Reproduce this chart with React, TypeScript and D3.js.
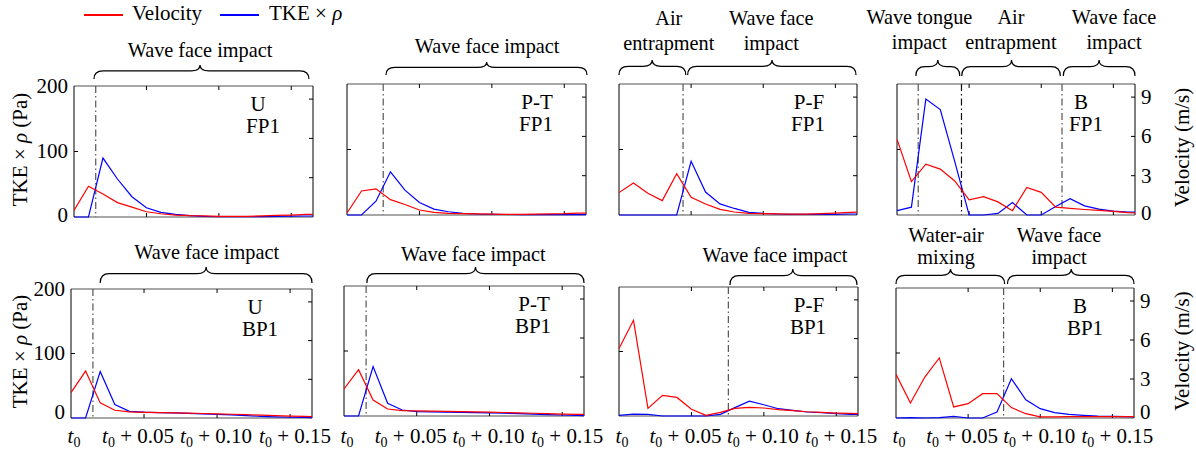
import React from 'react';
import * as d3 from 'd3';

// time axis (s after t0)
const times = [0, 0.01, 0.02, 0.03, 0.04, 0.05, 0.06, 0.07, 0.08, 0.09, 0.1, 0.11, 0.12, 0.13, 0.14, 0.15, 0.16, 0.17];
const timeTicks = [0, 0.05, 0.1, 0.15];
const timeTickLabels = ['', ' + 0.05', ' + 0.10', ' + 0.15'];
const tkeTicks = [0, 100, 200];
const velTicks = [0, 3, 6, 9];

const panelTypes = ['U', 'P-T', 'P-F', 'B'];
const positions = ['FP1', 'BP1'];

// Velocity (m/s)
const velU_FP1 = [0.5, 2.35, 1.75, 1.1, 0.75, 0.4, 0.25, 0.15, 0.1, 0.08, 0.05, 0.05, 0.05, 0.08, 0.12, 0.15, 0.2, 0.2];
const velPT_FP1 = [0.15, 1.83, 2.0, 1.17, 0.8, 0.38, 0.2, 0.12, 0.1, 0.08, 0.06, 0.05, 0.05, 0.06, 0.08, 0.1, 0.15, 0.15];
const velPF_FP1 = [1.71, 2.45, 1.66, 1.1, 3.16, 1.35, 0.84, 0.43, 0.23, 0.13, 0.1, 0.08, 0.06, 0.06, 0.1, 0.15, 0.2, 0.25];
const velB_FP1 = [5.79, 2.55, 3.88, 3.5, 2.6, 1.15, 1.4, 1.0, 0.33, 2.1, 1.73, 0.6, 0.5, 0.42, 0.35, 0.28, 0.18, 0.15];
const velU_BP1 = [1.97, 3.64, 1.17, 0.6, 0.47, 0.44, 0.42, 0.4, 0.38, 0.35, 0.32, 0.29, 0.26, 0.22, 0.18, 0.15, 0.12, 0.1];
const velPT_BP1 = [2.08, 3.56, 1.23, 0.54, 0.41, 0.4, 0.38, 0.36, 0.34, 0.32, 0.3, 0.27, 0.24, 0.21, 0.18, 0.15, 0.13, 0.12];
const velPF_BP1 = [5.23, 7.42, 0.59, 1.6, 1.44, 0.52, 0.05, 0.28, 0.59, 0.67, 0.62, 0.49, 0.41, 0.33, 0.28, 0.23, 0.2, 0.18];
const velB_BP1 = [3.36, 1.15, 3.15, 4.62, 0.85, 1.1, 1.87, 1.87, 0.8, 0.33, 0.08, 0.08, 0.1, 0.1, 0.1, 0.1, 0.1, 0.1];

// TKE x rho (Pa)
const tkeU_FP1 = [0, 0, 90, 58, 31, 14, 7, 4, 2, 1, 0.5, 0.5, 0.5, 0.5, 0.8, 1.2, 1.5, 1.5];
const tkePT_FP1 = [0, 0, 21, 66, 38, 19, 9, 5, 2.5, 1.5, 1, 0.8, 0.5, 0.5, 0.5, 0.5, 0.5, 0.5];
const tkePF_FP1 = [0, 0, 0, 0, 0, 82, 35, 17, 10, 4, 2.5, 1.5, 1, 1, 1, 1, 1.5, 1.5];
const tkeB_FP1 = [6.6, 12, 177, 161, 82, 0, 0, 2.5, 19, 0, 0, 13, 25, 14, 9, 6, 4.5, 4];
const tkeU_BP1 = [0, 0, 72, 21, 10.4, 9, 8.3, 7.8, 7.3, 6.5, 5.7, 4.7, 3.6, 2.6, 1.8, 1.2, 0.8, 0.5];
const tkePT_BP1 = [0, 0, 76, 19.5, 9.2, 6.7, 6.3, 6, 5.6, 5.2, 4.7, 4.2, 3.6, 3, 2.2, 1.5, 0.8, 0.5];
const tkePF_BP1 = [1, 3, 2.6, 0, 0, 0, 0, 2.6, 13, 23, 17.5, 11.3, 8.8, 6.2, 5.2, 3.6, 2.6, 2];
const tkeB_BP1 = [0, 0.5, 0, 0.5, 2.6, 0, 0, 9.2, 60.5, 28, 14.4, 8.2, 5.6, 4.1, 3, 2.6, 2, 1.5];

const velSeries = [velU_FP1, velPT_FP1, velPF_FP1, velB_FP1, velU_BP1, velPT_BP1, velPF_BP1, velB_BP1];
const tkeSeries = [tkeU_FP1, tkePT_FP1, tkePF_FP1, tkeB_FP1, tkeU_BP1, tkePT_BP1, tkePF_BP1, tkeB_BP1];

// phase separators (time, s)
const separators = [[0.015], [0.025], [0.0444], [0.0147, 0.0447, 0.1144], [0.015], [0.0152], [0.0755], [0.0746]];

// phase braces: [start, end, tip] in time units
const braces = [
  [[0.0138, 0.1622, 0.087]],
  [[0.0269, 0.1657, 0.0964]],
  [[0.0, 0.0463, 0.023], [0.0476, 0.1643, 0.1061]],
  [[0.0131, 0.0435, 0.0283], [0.0449, 0.1132, 0.0794], [0.1153, 0.165, 0.1401]],
  [[0.02, 0.165, 0.0925]],
  [[0.0157, 0.165, 0.0904]],
  [[0.0766, 0.1643, 0.12]],
  [[0.0, 0.0753, 0.0378], [0.0773, 0.165, 0.1215]],
];

// phase labels: [center time, lines]
const phaseLabels: [number, string[]][][] = [
  [[0.087, ['Wave face impact']]],
  [[0.0967, ['Wave face impact']]],
  [[0.0345, ['Air', 'entrapment']], [0.1056, ['Wave face', 'impact']]],
  [[0.0155, ['Wave tongue', 'impact']], [0.079, ['Air', 'entrapment']], [0.1505, ['Wave face', 'impact']]],
  [[0.0929, ['Wave face impact']]],
  [[0.0889, ['Wave face impact']]],
  [[0.1077, ['Wave face impact']]],
  [[0.0347, ['Water-air', 'mixing']], [0.113, ['Wave face', 'impact']]],
];

const layout = [
  { x: 74, y: 86, w: 239, h: 131, tip: 65, end: 79, base: [57] },
  { x: 347, y: 84, w: 239, h: 131, tip: 62, end: 75, base: [53] },
  { x: 619, y: 84, w: 238, h: 131, tip: 60, end: 75, base: [25, 50] },
  { x: 897, y: 84, w: 238, h: 131, tip: 60, end: 76, base: [24, 49] },
  { x: 71, y: 289, w: 241, h: 129, tip: 267, end: 283, base: [259] },
  { x: 344, y: 286, w: 240, h: 130, tip: 267, end: 283, base: [261] },
  { x: 619, y: 287, w: 239, h: 129, tip: 269, end: 285, base: [262] },
  { x: 896, y: 288, w: 238, h: 130, tip: 269, end: 284, base: [241.5, 264] },
];

const FONT = '"Liberation Serif", "Times New Roman", serif';
const FS = 21;
const FS_PHASE = 20.3;
const labelDx = [3, -6, -1, 5];
const typeDx: Record<string, number> = { U: 184, 'P-T': 190, 'P-F': 190, B: 184 };

function bracePath(x1: number, x2: number, xm: number, yTip: number, yEnd: number) {
  const yFlat = yTip + (yEnd - yTip) * 0.42;
  const r = Math.min(9, (xm - x1) / 2, (x2 - xm) / 2);
  return `M${x1},${yEnd} Q${x1},${yFlat} ${x1 + r},${yFlat} L${xm - r},${yFlat} Q${xm},${yFlat} ${xm},${yTip} Q${xm},${yFlat} ${xm + r},${yFlat} L${x2 - r},${yFlat} Q${x2},${yFlat} ${x2},${yEnd}`;
}

function Panel({ i }: { i: number }) {
  const L = layout[i];
  const col = i % 4;
  const row = Math.floor(i / 4);
  const x = d3.scaleLinear().domain([0, 0.165]).range([L.x, L.x + L.w]);
  const yT = d3.scaleLinear().domain([0, 200]).range([L.y + L.h, L.y]);
  const yV = d3.scaleLinear().domain([0, 10]).range([L.y + L.h, L.y]);
  const tkeLine = d3.line<number>().x((_, k) => x(times[k])).y((d) => yT(d));
  const velLine = d3.line<number>().x((_, k) => x(times[k])).y((d) => yV(d));
  const clipId = `clip${i}`;
  const bottom = L.y + L.h;
  const right = L.x + L.w;
  const zeroShift = row === 1 ? -6 : -2;
  return (
    <g>
      <defs>
        <clipPath id={clipId}>
          <rect x={L.x} y={L.y - 1} width={L.w} height={L.h + 2} />
        </clipPath>
      </defs>
      {/* frame */}
      <line x1={L.x} x2={right} y1={L.y} y2={L.y} stroke="#8a8a8a" strokeWidth={1.5} />
      <line x1={L.x} x2={right} y1={bottom} y2={bottom} stroke="#8a8a8a" strokeWidth={1.5} />
      <line x1={L.x} x2={L.x} y1={L.y} y2={bottom} stroke="#000" strokeWidth={1} />
      <line x1={right} x2={right} y1={L.y} y2={bottom} stroke="#000" strokeWidth={1} />
      {/* ticks */}
      {timeTicks.slice(1).map((t) => (
        <g key={t}>
          <line x1={x(t)} x2={x(t)} y1={bottom} y2={bottom - 4} stroke="#000" strokeWidth={1} />
          <line x1={x(t)} x2={x(t)} y1={L.y} y2={L.y + 4} stroke="#000" strokeWidth={1} />
        </g>
      ))}
      {tkeTicks.slice(1, -1).map((v) => (
        <line key={v} x1={L.x} x2={L.x + 4} y1={yT(v)} y2={yT(v)} stroke="#000" strokeWidth={1} />
      ))}
      {velTicks.slice(1).map((v) => (
        <line key={v} x1={right} x2={right - 4} y1={yV(v)} y2={yV(v)} stroke="#000" strokeWidth={1} />
      ))}
      {/* separators */}
      {separators[i].map((t, k) => (
        <line
          key={k}
          x1={x(t)}
          x2={x(t)}
          y1={L.y}
          y2={bottom}
          stroke={i === 3 && k === 1 ? '#111' : '#555'}
          strokeWidth={1.2}
          strokeDasharray="7 3 1.5 3"
        />
      ))}
      {/* series */}
      <g clipPath={`url(#${clipId})`}>
        <path d={tkeLine(tkeSeries[i]) || ''} fill="none" stroke="#0000ff" strokeWidth={1.2} />
        <path d={velLine(velSeries[i]) || ''} fill="none" stroke="#ff0000" strokeWidth={1.2} />
      </g>
      {/* panel label */}
      <text x={L.x + typeDx[panelTypes[col]]} y={L.y + 25} textAnchor="middle" fontFamily={FONT} fontSize={FS}>
        {panelTypes[col]}
      </text>
      <text x={L.x + 189} y={L.y + 47} textAnchor="middle" fontFamily={FONT} fontSize={FS}>
        {positions[row]}
      </text>
      {/* braces */}
      {braces[i].map((b, k) => (
        <path key={k} d={bracePath(x(b[0]), x(b[1]), x(b[2]), L.tip, L.end)} fill="none" stroke="#000" strokeWidth={1.2} />
      ))}
      {phaseLabels[i].map(([t, lines], k) => (
        <g key={k}>
          {lines.map((s, j) => (
            <text
              key={j}
              x={x(t)}
              y={lines.length === 1 ? L.base[L.base.length - 1] : L.base[j]}
              textAnchor="middle"
              fontFamily={FONT}
              fontSize={FS_PHASE}
            >
              {s}
            </text>
          ))}
        </g>
      ))}
      {/* left axis labels */}
      {col === 0 &&
        tkeTicks.map((v) => (
          <text
            key={v}
            x={L.x - 6}
            y={yT(v) + (v === 0 ? zeroShift : 0)}
            dy="0.33em"
            textAnchor="end"
            fontFamily={FONT}
            fontSize={FS}
          >
            {v}
          </text>
        ))}
      {col === 0 && (
        <text
          transform={`translate(27,${L.y + L.h / 2 - 2}) rotate(-90)`}
          textAnchor="middle"
          fontFamily={FONT}
          fontSize={FS}
        >
          TKE × <tspan fontStyle="italic">ρ</tspan> (Pa)
        </text>
      )}
      {/* right axis labels */}
      {col === 3 &&
        velTicks.map((v) => (
          <text
            key={v}
            x={right + 6}
            y={yV(v) + (v === 0 ? zeroShift : 0)}
            dy="0.33em"
            textAnchor="start"
            fontFamily={FONT}
            fontSize={FS}
          >
            {v}
          </text>
        ))}
      {col === 3 && (
        <text
          transform={`translate(1189,${L.y + L.h / 2 - 2}) rotate(-90)`}
          textAnchor="middle"
          fontFamily={FONT}
          fontSize={FS}
        >
          Velocity (m/s)
        </text>
      )}
      {/* time labels */}
      {row === 1 &&
        timeTicks.map((t, k) => (
          <text key={t} x={x(t) + labelDx[k]} y={443} textAnchor="middle" fontFamily={FONT} fontSize={FS}>
            <tspan fontStyle="italic">t</tspan>
            <tspan fontSize={14} dy={4}>0</tspan>
            <tspan dy={-4}>{timeTickLabels[k]}</tspan>
          </text>
        ))}
    </g>
  );
}

export default function App() {
  return (
    <svg
      width={1196}
      height={452}
      style={{ position: 'absolute', left: 0, top: 0, background: '#fff' }}
      xmlns="http://www.w3.org/2000/svg"
    >
      <rect x={0} y={0} width={1196} height={452} fill="#fff" />
      {/* legend */}
      <line x1={84} x2={123} y1={15} y2={15} stroke="#ff0000" strokeWidth={2} />
      <text x={132} y={20} fontFamily={FONT} fontSize={FS}>Velocity</text>
      <line x1={220} x2={259} y1={15} y2={15} stroke="#0000ff" strokeWidth={2} />
      <text x={269} y={20} fontFamily={FONT} fontSize={FS}>
        TKE × <tspan fontStyle="italic">ρ</tspan>
      </text>
      {layout.map((_, i) => (
        <Panel key={i} i={i} />
      ))}
    </svg>
  );
}
